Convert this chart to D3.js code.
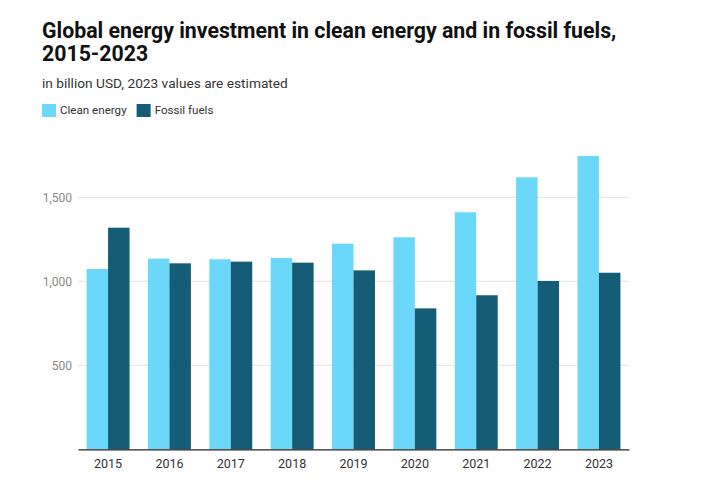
<!DOCTYPE html>
<html>
<head>
<meta charset="utf-8">
<script src="https://cdn.jsdelivr.net/npm/d3@7"></script>
<style>
  body { margin: 0; background: #fff; }
  svg { font-family: Roboto, "Noto Sans", sans-serif; }
</style>
</head>
<body>
<div id="chart"></div>
<script>
const years = ["2015", "2016", "2017", "2018", "2019", "2020", "2021", "2022", "2023"];
const seriesNames = ["Clean energy", "Fossil fuels"];
const cleanEnergy = [1073, 1135, 1131, 1139, 1224, 1262, 1411, 1619, 1746];
const fossilFuels = [1319, 1107, 1117, 1111, 1065, 839, 917, 1002, 1051];
const yTicks = [500, 1000, 1500];

const width = 701, height = 484;
const margin = { top: 130, left: 78, right: 72, bottom: 34.7 };
const colors = ["#6bd8f9", "#155d77"];

const svg = d3.select("#chart").append("svg")
    .attr("width", width)
    .attr("height", height)
    .attr("viewBox", [0, 0, width, height]);

// title + subtitle
const title = svg.append("text")
    .attr("x", 42).attr("y", 38)
    .attr("fill", "#111")
    .style("font-size", "21.3px")
    .style("font-weight", "bold");
title.append("tspan").attr("x", 42).attr("dy", 0).text("Global energy investment in clean energy and in fossil fuels,");
title.append("tspan").attr("x", 42).attr("dy", 22.5).text("2015-2023");

svg.append("text")
    .attr("x", 42).attr("y", 87.5)
    .attr("fill", "#333")
    .style("font-size", "13.7px")
    .text("in billion USD, 2023 values are estimated");

// legend
const legend = svg.append("g").attr("transform", "translate(42,104)");
let lx = 0;
seriesNames.forEach((name, i) => {
    const g = legend.append("g").attr("transform", `translate(${lx},0)`);
    g.append("rect").attr("width", 14).attr("height", 13).attr("fill", colors[i]);
    const t = g.append("text").attr("x", 18).attr("y", 9.8)
        .attr("fill", "#333").style("font-size", "11.6px").text(name);
    lx += 18 + t.node().getComputedTextLength() + 10;
});

const x0 = d3.scaleBand()
    .domain(years)
    .range([margin.left, width - margin.right])
    .paddingInner(0.3)
    .paddingOuter(0.14);

const x1 = d3.scaleBand()
    .domain(seriesNames)
    .range([0, x0.bandwidth()]);

// 500 units per 84px, baseline at 449.3
const y = d3.scaleLinear()
    .domain([0, (height - margin.bottom - margin.top) / 84 * 500])
    .range([height - margin.bottom, margin.top]);

// gridlines
svg.append("g")
    .selectAll("line")
    .data(yTicks)
    .join("line")
    .attr("x1", margin.left).attr("x2", width - margin.right)
    .attr("y1", d => y(d)).attr("y2", d => y(d))
    .attr("stroke", "#e2e2e2");

// y axis labels
svg.append("g")
    .attr("transform", `translate(${margin.left},0)`)
    .call(d3.axisLeft(y).tickValues(yTicks).tickSize(0).tickPadding(6).tickFormat(d3.format(",")))
    .call(g => g.select(".domain").remove())
    .call(g => g.selectAll("text")
        .attr("fill", "#888")
        .style("font-size", "12px")
        .style("font-family", "Roboto, sans-serif"));

// bars
const table = years.map((yr, i) => ({ year: yr, values: [cleanEnergy[i], fossilFuels[i]] }));

svg.append("g")
    .selectAll("g")
    .data(table)
    .join("g")
    .attr("transform", d => `translate(${x0(d.year)},0)`)
    .selectAll("rect")
    .data(d => d.values.map((v, i) => ({ key: seriesNames[i], value: v, i })))
    .join("rect")
    .attr("x", d => x1(d.key))
    .attr("width", x1.bandwidth())
    .attr("y", d => y(d.value))
    .attr("height", d => y(0) - y(d.value))
    .attr("fill", d => colors[d.i]);

// x axis
svg.append("g")
    .attr("transform", `translate(0,${y(0)})`)
    .call(d3.axisBottom(x0).tickSize(0).tickPadding(10))
    .call(g => g.select(".domain").attr("stroke", "#222").attr("stroke-width", 1.3))
    .call(g => g.selectAll("text")
        .attr("fill", "#333")
        .style("font-size", "12.5px")
        .style("font-family", "Roboto, sans-serif"));
</script>
</body>
</html>
